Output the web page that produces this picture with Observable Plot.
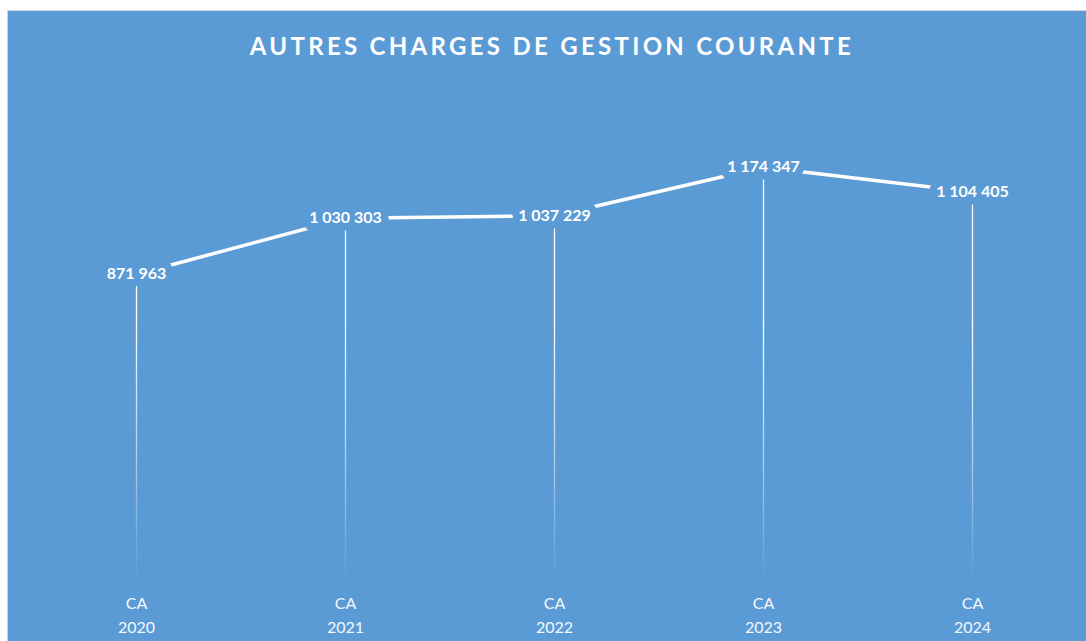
<!DOCTYPE html>
<html>
<head>
<meta charset="utf-8">
<script src="https://cdn.jsdelivr.net/npm/d3@7"></script>
<script src="https://cdn.jsdelivr.net/npm/@observablehq/plot@0.6"></script>
<style>
  html, body { margin: 0; padding: 0; background: #ffffff; overflow: hidden; width: 1086px; height: 641px; }
  #panel {
    position: absolute; left: 7px; top: 10px; width: 1090px; height: 640px;
    background: #5B9BD5; border-left: 1px solid #d4d4d4; border-top: 1px solid #d4d4d4;
    font-family: Lato, "Open Sans", sans-serif;
  }
  #title {
    margin: 0; height: 70px; line-height: 70px; text-align: center; width: 1090px;
    color: #ffffff; font-family: Lato, sans-serif; font-weight: 700; font-size: 24px; letter-spacing: 3.3px;
    position: relative; left: -1px;
  }
  #chart svg { display: block; }
</style>
</head>
<body>
<div id="panel">
  <div id="title">AUTRES CHARGES DE GESTION COURANTE</div>
  <div id="chart"></div>
</div>
<script>
const categories = ["CA 2020", "CA 2021", "CA 2022", "CA 2023", "CA 2024"];
const values = [871963, 1030303, 1037229, 1174347, 1104405];
const tickLabels = ["CA\n2020", "CA\n2021", "CA\n2022", "CA\n2023", "CA\n2024"];

const data = categories.map((c, i) => ({cat: c, value: values[i]}));
const fr = d3.formatLocale({decimal: ",", thousands: " ", grouping: [3], currency: ["", " €"]});
const fmt = fr.format(",d");
const BG = "#5B9BD5";

const defs = (index, scales, vals, dims) => {
  const g = d3.create("svg:defs");
  const lg = g.append("linearGradient")
    .attr("id", "dropfade")
    .attr("gradientUnits", "userSpaceOnUse")
    .attr("x1", 0).attr("x2", 0)
    .attr("y1", scales.y(750000)).attr("y2", scales.y(0));
  lg.append("stop").attr("offset", 0).attr("stop-color", "#ffffff").attr("stop-opacity", 1);
  lg.append("stop").attr("offset", 0.5).attr("stop-color", "#ffffff").attr("stop-opacity", 0.55);
  lg.append("stop").attr("offset", 1).attr("stop-color", "#ffffff").attr("stop-opacity", 0);
  return g.node();
};

const chart = Plot.plot({
  width: 1078,
  height: 560,
  marginLeft: 22,
  marginRight: 9,
  marginTop: 6,
  marginBottom: 59,
  style: {background: "transparent", color: "#ffffff", fontFamily: "Lato, sans-serif"},
  x: {type: "point", domain: categories, padding: 0.5, label: null},
  y: {domain: [0, 1400000], axis: null},
  marks: [
    defs,
    Plot.ruleX(data, {x: "cat", y1: 0, y2: "value", stroke: "url(#dropfade)", strokeWidth: 1.3}),
    Plot.line(data, {x: "cat", y: "value", stroke: "#ffffff", strokeWidth: 3.5, strokeLinecap: "butt"}),
    Plot.text(data, {x: "cat", y: "value", text: d => fmt(d.value), fill: "#ffffff", stroke: BG, strokeWidth: 15,
      fontSize: 16, fontWeight: 700}),
    Plot.axisX({tickSize: 0, tickPadding: 9, fontSize: 16, lineHeight: 1.5,
      tickFormat: (d, i) => tickLabels[categories.indexOf(d)], fill: "#f4f8fc"})
  ]
});
document.getElementById("chart").appendChild(chart);
</script>
</body>
</html>
